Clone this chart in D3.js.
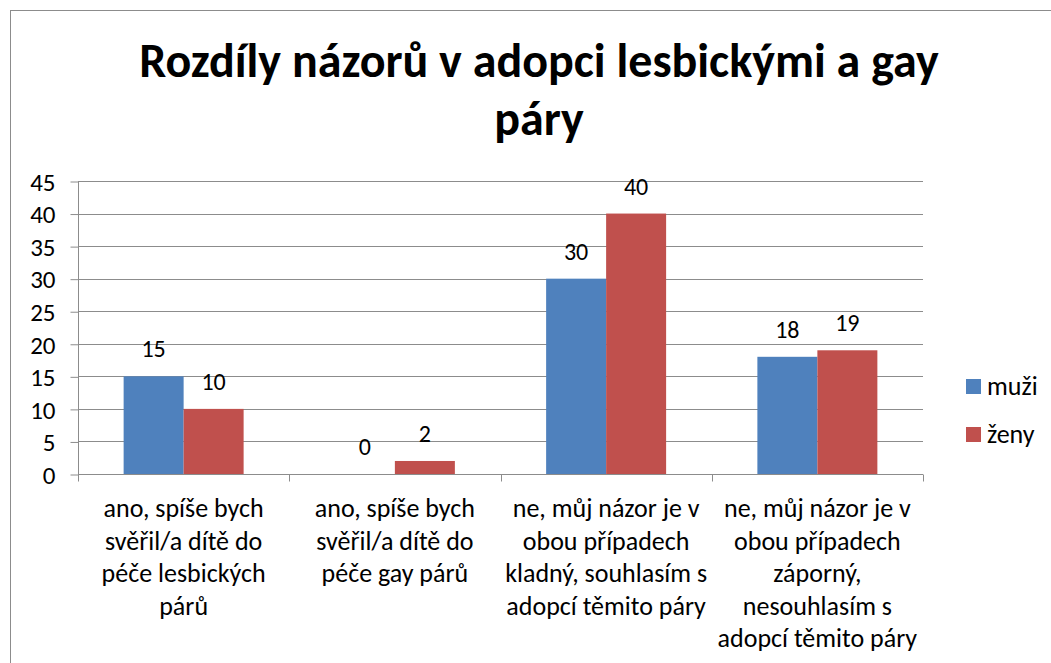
<!DOCTYPE html>
<html>
<head>
<meta charset="utf-8">
<script src="https://cdn.jsdelivr.net/npm/d3@7"></script>
<style>
  html, body { margin: 0; padding: 0; background: #fff; }
  svg { display: block; }
  text { font-family: Carlito, Calibri, Lato, "Open Sans", sans-serif; fill: #000; }
</style>
</head>
<body>
<svg id="chart" width="1051" height="663"></svg>
<script>
// ---- data ----
const titleLines = ["Rozdíly názorů v adopci lesbickými a gay", "páry"];
const categories = [
  ["ano, spíše bych", "svěřil/a dítě do", "péče lesbických", "párů"],
  ["ano, spíše bych", "svěřil/a dítě do", "péče gay párů"],
  ["ne, můj názor je v", "obou případech", "kladný, souhlasím s", "adopcí těmito páry"],
  ["ne, můj názor je v", "obou případech", "záporný,", "nesouhlasím s", "adopcí těmito páry"]
];
const seriesNames = ["muži", "ženy"];
const muzi = [15, 0, 30, 18];
const zeny = [10, 2, 40, 19];
const yTicks = [0, 5, 10, 15, 20, 25, 30, 35, 40, 45];
const colors = ["#4F81BD", "#C0504D"];

const svg = d3.select("#chart");

// outer border
svg.append("rect").attr("x", 10.5).attr("y", 10.5).attr("width", 1100).attr("height", 700)
  .attr("fill", "none").attr("stroke", "#8c8c8c").attr("stroke-width", 1);

const plot = { left: 78, right: 923, top: 181, bottom: 474 };
const catIdx = categories.map((c, i) => i);
const x0 = d3.scaleBand().domain(catIdx).range([plot.left, plot.right]).paddingInner(0).paddingOuter(0);
const bw = x0.bandwidth();
const groupW = bw * 0.568;
const x1 = d3.scaleBand().domain(seriesNames).range([(bw - groupW) / 2, (bw + groupW) / 2]);
const y = d3.scaleLinear().domain([0, 45]).range([plot.bottom, plot.top]);

// title
const title = svg.append("text").attr("text-anchor", "middle")
  .style("font-weight", "bold").style("font-size", "48px");
titleLines.forEach((t, i) => {
  title.append("tspan").attr("x", 539).attr("y", 77 + i * 58).text(t);
});

// gridlines
svg.append("g").selectAll("line").data(yTicks.filter(d => d > 0)).join("line")
  .attr("x1", plot.left).attr("x2", plot.right)
  .attr("y1", d => Math.round(y(d)) + 0.5).attr("y2", d => Math.round(y(d)) + 0.5)
  .attr("stroke", "#8c8c8c").attr("stroke-width", 1);

// y axis
const yAxis = d3.axisLeft(y).tickValues(yTicks).tickSize(8).tickPadding(15).tickFormat(d3.format("d"));
const gy = svg.append("g").attr("transform", `translate(${plot.left + 0.5},0.5)`).call(yAxis);
gy.select(".domain").attr("stroke", "#8c8c8c").attr("d", `M0,${plot.top}V${plot.bottom}`);
gy.selectAll(".tick line").attr("stroke", "#8c8c8c");
gy.selectAll(".tick text").style("font-size", "25px").style("font-family", "Carlito, Calibri, Lato, sans-serif")
  .attr("fill", "#000").attr("dy", "0.35em");

// bars
const data = categories.map((c, i) => ({ i, vals: [muzi[i], zeny[i]] }));
const groups = svg.append("g").selectAll("g").data(data).join("g")
  .attr("transform", d => `translate(${x0(d.i)},0)`);
groups.selectAll("rect").data(d => d.vals.map((v, k) => ({ v, k }))).join("rect")
  .attr("x", d => x1(seriesNames[d.k]))
  .attr("width", x1.bandwidth())
  .attr("y", d => y(d.v))
  .attr("height", d => y(0) - y(d.v))
  .attr("fill", d => colors[d.k]);
groups.selectAll("text.lbl").data(d => d.vals.map((v, k) => ({ v, k }))).join("text")
  .attr("class", "lbl")
  .attr("x", d => x1(seriesNames[d.k]) + x1.bandwidth() / 2)
  .attr("y", d => y(d.v) - 19)
  .attr("text-anchor", "middle").style("font-size", "24px")
  .text(d => d.v);

// x axis
const gx = svg.append("g").attr("transform", `translate(0,${plot.bottom + 0.5})`);
gx.append("line").attr("x1", plot.left).attr("x2", plot.right).attr("stroke", "#8c8c8c");
const boundaries = catIdx.map(i => x0(i)).concat([plot.right]);
gx.selectAll("line.tk").data(boundaries).join("line").attr("class", "tk")
  .attr("x1", d => Math.round(d) + 0.5).attr("x2", d => Math.round(d) + 0.5)
  .attr("y1", 0).attr("y2", 7).attr("stroke", "#8c8c8c");

// category labels
const catG = svg.append("g").selectAll("text").data(categories).join("text")
  .attr("text-anchor", "middle").style("font-size", "26px");
catG.each(function(lines, i) {
  const t = d3.select(this);
  lines.forEach((ln, j) => {
    t.append("tspan").attr("x", x0(i) + bw / 2).attr("y", 517 + j * 32.5).text(ln);
  });
});

// legend
const leg = svg.append("g").selectAll("g").data(seriesNames).join("g")
  .attr("transform", (d, i) => `translate(966,${379 + i * 48})`);
leg.append("rect").attr("width", 15).attr("height", 15).attr("fill", (d, i) => colors[i]);
leg.append("text").attr("x", 21).attr("y", 16).style("font-size", "26px").text(d => d);
</script>
</body>
</html>
